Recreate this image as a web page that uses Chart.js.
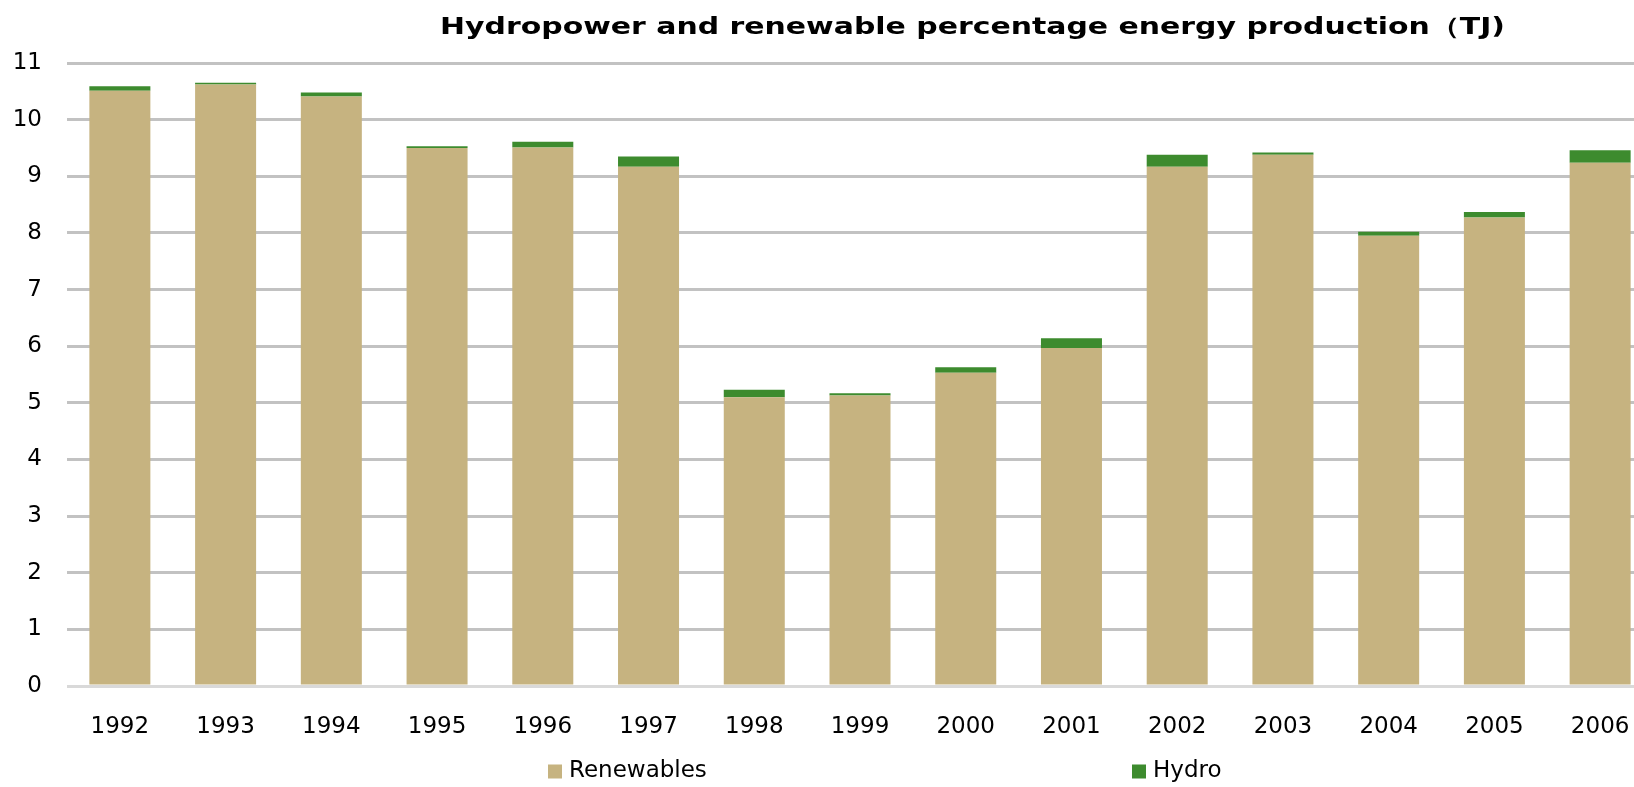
<!DOCTYPE html>
<html>
<head>
<meta charset="utf-8">
<script src="https://cdn.jsdelivr.net/npm/chart.js@4"></script>
<style>
  html, body { margin: 0; padding: 0; overflow: hidden; background: #fff; }
  #wrap { width: 1634px; height: 787px; overflow: hidden; }
</style>
</head>
<body>
<div id="wrap"><canvas id="hydroChart" width="1945" height="787"></canvas></div>
<script>
const years = ["1992", "1993", "1994", "1995", "1996", "1997", "1998", "1999",
  "2000", "2001", "2002", "2003", "2004", "2005", "2006"];
const renewables = [10.51, 10.62, 10.41, 9.50, 9.51, 9.17, 5.10, 5.13,
  5.53, 5.97, 9.17, 9.38, 7.95, 8.27, 9.24];
const hydro = [0.08, 0.03, 0.07, 0.03, 0.10, 0.18, 0.13, 0.04,
  0.10, 0.17, 0.21, 0.04, 0.07, 0.10, 0.22];
const yTicks = [0, 1, 2, 3, 4, 5, 6, 7, 8, 9, 10, 11];
const chartTitle = "Hydropower and renewable percentage energy production（TJ)";

const FONT = "'DejaVu Sans', Verdana, sans-serif";

// the original title is stretched sideways, so it is drawn by hand
const wideTitle = {
  id: "wideTitle",
  afterDraw(chart, args, opts) {
    const ctx = chart.ctx;
    ctx.save();
    ctx.translate(chart.width / 2, 33.5);
    ctx.scale(1.3, 1);
    ctx.font = "bold 23px " + FONT;
    ctx.fillStyle = "#000";
    ctx.textAlign = "center";
    ctx.textBaseline = "alphabetic";
    ctx.fillText(opts.text, 0, 0);
    ctx.restore();
  },
};

// legend is drawn by hand so the two entries can sit far apart like the original
const spreadLegend = {
  id: "spreadLegend",
  afterDraw(chart) {
    const ctx = chart.ctx;
    const slots = [548, 1132];
    const cy = 771.5;
    ctx.save();
    ctx.font = "23px " + FONT;
    ctx.textBaseline = "middle";
    ctx.textAlign = "left";
    chart.data.datasets.forEach((ds, i) => {
      ctx.fillStyle = ds.backgroundColor;
      ctx.fillRect(slots[i], cy - 7, 14, 14);
      ctx.fillStyle = "#000";
      ctx.fillText(ds.label, slots[i] + 21, cy);
    });
    ctx.restore();
  },
};

const ctx = document.getElementById("hydroChart").getContext("2d");
const myChart = new Chart(ctx, {
  type: "bar",
  data: {
    labels: years,
    datasets: [
      {
        label: "Renewables",
        data: renewables,
        backgroundColor: "#c6b380",
        borderWidth: 0,
      },
      {
        label: "Hydro",
        data: hydro,
        backgroundColor: "#3d8b2e",
        borderWidth: 0,
      },
    ],
  },
  options: {
    responsive: false,
    animation: false,
    layout: { padding: { top: 63, left: 0, right: 0, bottom: 40 } },
    datasets: {
      bar: { categoryPercentage: 1, barPercentage: 0.577 },
    },
    scales: {
      x: {
        stacked: true,
        grid: { display: false },
        border: { display: false },
        ticks: {
          color: "#000",
          padding: 19,
          maxRotation: 0,
          font: { family: FONT, size: 23 },
        },
        afterFit: (s) => { s.height = 61; },
      },
      y: {
        stacked: true,
        min: 0,
        max: 11,
        afterBuildTicks: (s) => { s.ticks = yTicks.map((v) => ({ value: v })); },
        grid: {
          drawTicks: false,
          lineWidth: 3,
          color: (c) => (c.tick && c.tick.value === 0 ? "#d9d9d9" : "#c2c2c2"),
        },
        border: { display: false },
        ticks: {
          color: "#000",
          padding: 25,
          font: { family: FONT, size: 23 },
        },
        afterFit: (s) => { s.width = 67; },
      },
      spare: {
        type: "linear",
        position: "right",
        grid: { display: false },
        border: { display: false },
        ticks: { display: false },
        afterFit: (s) => { s.width = 292; },
      },
    },
    plugins: {
      legend: { display: false },
      tooltip: { enabled: false },
      title: { display: false },
      wideTitle: { text: chartTitle },
    },
  },
  plugins: [wideTitle, spreadLegend],
});
</script>
</body>
</html>
